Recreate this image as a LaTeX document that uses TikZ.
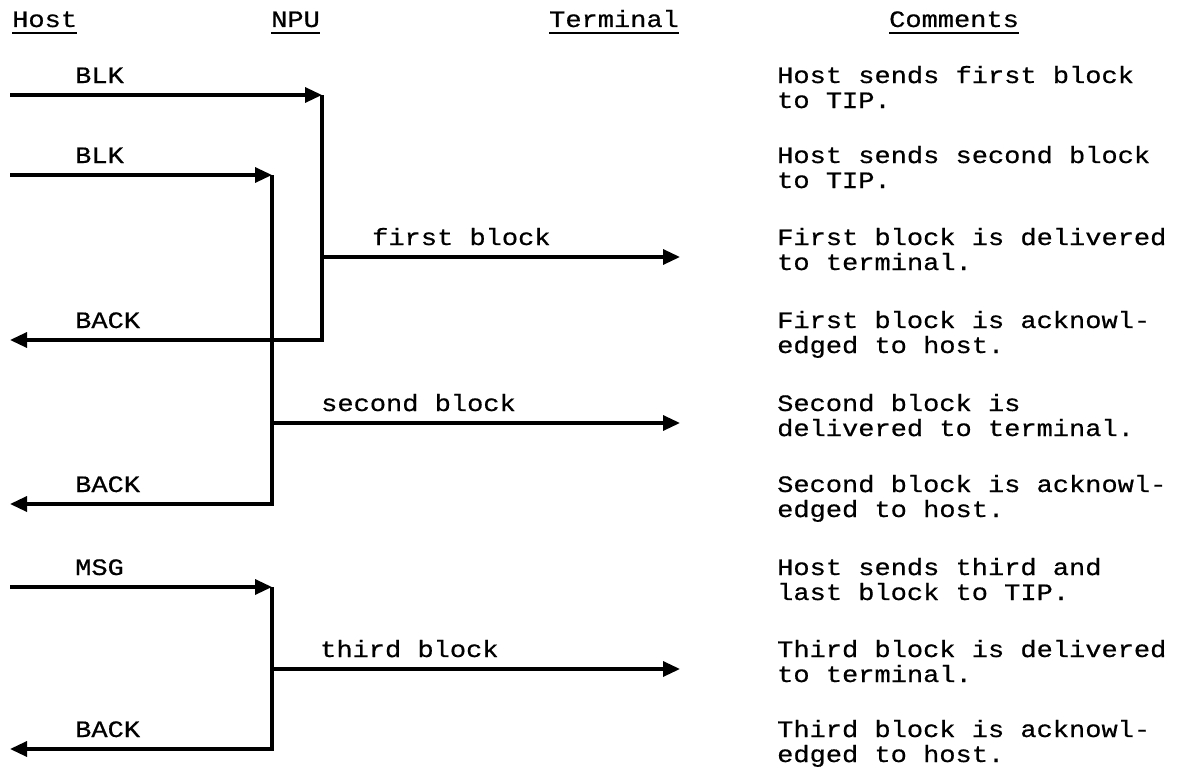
\documentclass[tikz,border=0pt]{standalone}
\usepackage{fontspec}
\setmainfont{Liberation Mono}[FakeStretch=1.15, FakeBold=0.6]
\usetikzlibrary{arrows.meta}

\begin{document}
\begin{tikzpicture}[x=1pt, y=-1pt,
  txt/.style={anchor=base west, inner sep=0pt, font=\fontsize{23.5}{25}\selectfont},
  cmt/.style={txt, align=left},
  msg/.style={line width=3.3pt, -{Triangle[length=17pt,width=15pt]}}]
\useasboundingbox (0,0) rectangle (1179,771);

% Titulos
\node[txt] (tHost) at (12,27) {Host};
\node[txt] (tNPU) at (271,27) {NPU};
\node[txt] (tTerm) at (549,27) {Terminal};
\node[txt] (tCom) at (889,27) {Comments};
\foreach \n in {tHost, tNPU, tTerm, tCom}
	\draw[line width=2pt] ([yshift=-6pt]\n.base west) -- ([yshift=-6pt]\n.base east);

% Puntos del lado del host
\foreach \r/\y in {1/95, 2/175, 4/340, 6/504, 7/587, 9/749}
	\coordinate (h\r) at (10,\y);

% Puntos del NPU y del terminal
\coordinate (a1) at (322,95);
\coordinate (a3) at (322,257);
\coordinate (a4) at (322,340);
\coordinate (b2) at (272,175);
\coordinate (b5) at (272,423);
\coordinate (b6) at (272,504);
\coordinate (c7) at (272,587);
\coordinate (c8) at (272,669);
\coordinate (c9) at (272,749);
\coordinate (t3) at (680,257);
\coordinate (t5) at (680,423);
\coordinate (t8) at (680,669);

% Mensajes
\draw[msg] (h1) -- (a1);
\draw[msg] (h2) -- (b2);
\draw[msg] (a1) -- (a4) -- (h4);
\draw[msg] (a3) -- (t3);
\draw[msg] (b2) -- (b6) -- (h6);
\draw[msg] (b5) -- (t5);
\draw[msg] (h7) -- (c7);
\draw[msg] (c7) -- (c9) -- (h9);
\draw[msg] (c8) -- (t8);

% Etiquetas
\node[txt] (lBlk1) at (75,83) {BLK};
\node[txt] (lBlk2) at (75,163) {BLK};
\node[txt] (lFirst) at (372,245) {first block};
\node[txt] (lBack1) at (75,328) {BACK};
\node[txt] (lSecond) at (321,411) {second block};
\node[txt] (lBack2) at (75,492) {BACK};
\node[txt] (lMsg) at (75,575) {MSG};
\node[txt] (lThird) at (320,657) {third block};
\node[txt] (lBack3) at (75,737) {BACK};

% Comentarios (la base es la de la segunda linea)
\node[cmt] (k1) at (777,108) {Host sends first block\\to TIP.};
\node[cmt] (k2) at (777,188) {Host sends second block\\to TIP.};
\node[cmt] (k3) at (777,270) {First block is delivered\\to terminal.};
\node[cmt] (k4) at (777,353) {First block is acknowl-\\edged to host.};
\node[cmt] (k5) at (777,436) {Second block is\\delivered to terminal.};
\node[cmt] (k6) at (777,517) {Second block is acknowl-\\edged to host.};
\node[cmt] (k7) at (777,600) {Host sends third and\\last block to TIP.};
\node[cmt] (k8) at (777,682) {Third block is delivered\\to terminal.};
\node[cmt] (k9) at (777,762) {Third block is acknowl-\\edged to host.};
\end{tikzpicture}
\end{document}
